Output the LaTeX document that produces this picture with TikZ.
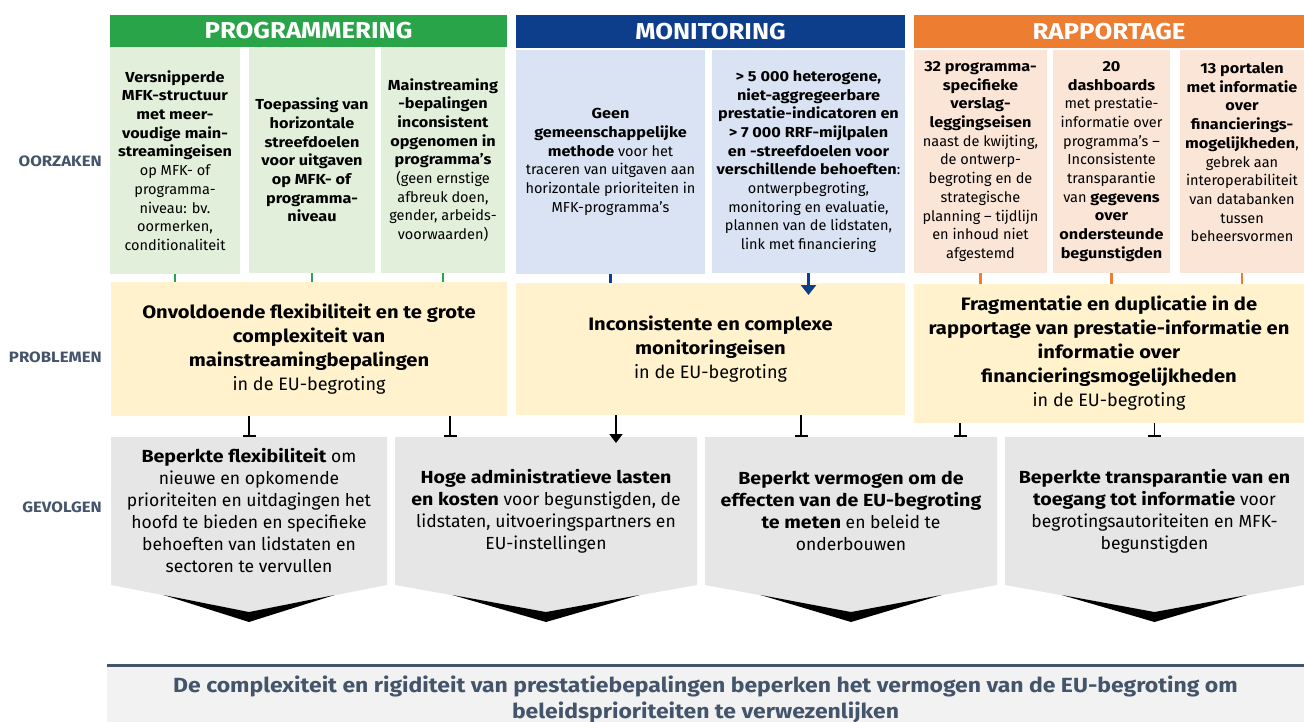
\documentclass[tikz,border=0pt]{standalone}
\usepackage{fontspec}
\setmainfont{Fira Sans}[BoldFeatures={FakeStretch=1.12}]
\usetikzlibrary{arrows.meta,calc}
\definecolor{gH}{RGB}{42,164,72}
\definecolor{gL}{RGB}{226,239,218}
\definecolor{bH}{RGB}{12,62,140}
\definecolor{bL}{RGB}{218,227,243}
\definecolor{oH}{RGB}{237,125,49}
\definecolor{oL}{RGB}{251,229,214}
\definecolor{pY}{RGB}{255,242,204}
\definecolor{cG}{RGB}{230,230,230}
\definecolor{lab}{RGB}{68,84,106}
\definecolor{botG}{RGB}{242,242,242}
\pgfdeclarelayer{bg}
\pgfsetlayers{bg,main}
\begin{document}
\begin{tikzpicture}[x=1pt,y=-1pt,
  box/.style={inner sep=0pt, outer sep=0pt, anchor=north west, align=center},
  hdr/.style={box, text=white, font=\fontsize{23}{28}\selectfont\bfseries},
  cause/.style={box, font=\fontsize{14.5}{18.7}\selectfont},
  prob/.style={box, fill=pY, font=\fontsize{18}{24}\selectfont},
  cons/.style={box, font=\fontsize{17.5}{22}\selectfont},
  lbl/.style={inner sep=0pt, anchor=east, text=lab, font=\fontsize{15}{18}\selectfont\bfseries},
  tick/.style={line width=2.5pt},
  tee/.style={line width=1.8pt, -{Bar[width=13pt,line width=2pt]}},
  chev/.style={fill=cG},
]
\useasboundingbox (0,0) rectangle (1304,722);

% headers
\node[hdr, fill=gH, minimum width=397pt, minimum height=32pt] (hp) at (110,15) {PROGRAMMERING};
\node[hdr, fill=bH, minimum width=389pt, minimum height=33pt] (hm) at (516,15) {MONITORING};
\node[hdr, fill=oH, minimum width=390pt, minimum height=33pt] (hr) at (914,15) {RAPPORTAGE};

% row labels
\node[lbl] (lo) at (102,161) {OORZAKEN};
\node[lbl] (lpr) at (102,357) {PROBLEMEN};
\node[lbl] (lg) at (102,507) {GEVOLGEN};

% causes
\node[cause, fill=gL, minimum width=130pt, minimum height=227pt] (g1) at (110,47)
 {\textbf{Versnipperde}\\\textbf{MFK-structuur}\\\textbf{met meer-}\\\textbf{voudige main-}\\\textbf{streamingeisen}\\op MFK- of\\programma-\\niveau: bv.\\oormerken,\\conditionaliteit};
\node[cause, fill=gL, minimum width=126pt, minimum height=226pt] (g2) at (249,47)
 {\textbf{Toepassing van}\\\textbf{horizontale}\\\textbf{streefdoelen}\\\textbf{voor uitgaven}\\\textbf{op MFK- of}\\\textbf{programma-}\\\textbf{niveau}};
\node[cause, fill=gL, minimum width=124pt, minimum height=226pt] (g3) at (381,47)
 {\textbf{Mainstreaming}\\\textbf{-bepalingen}\\\textbf{inconsistent}\\\textbf{opgenomen in}\\\textbf{programma’s}\\(geen ernstige\\afbreuk doen,\\gender, arbeids-\\voorwaarden)};
\node[cause, fill=bL, minimum width=189pt, minimum height=224pt] (b1) at (516,50)
 {\textbf{Geen}\\\textbf{gemeenschappelijke}\\\textbf{methode} voor het\\traceren van uitgaven aan\\horizontale prioriteiten in\\MFK-programma’s};
\node[cause, fill=bL, minimum width=193pt, minimum height=223pt] (b2) at (712,50)
 {\textbf{> 5~000 heterogene,}\\\textbf{niet-aggregeerbare}\\\textbf{prestatie-indicatoren en}\\\textbf{> 7~000 RRF-mijlpalen}\\\textbf{en -streefdoelen voor}\\\textbf{verschillende behoeften}:\\ontwerpbegroting,\\monitoring en evaluatie,\\plannen van de lidstaten,\\link met financiering};
\node[cause, fill=oL, minimum width=133pt, minimum height=223pt] (o1) at (914,50)
 {\textbf{32 programma-}\\\textbf{specifieke}\\\textbf{verslag-}\\\textbf{leggingseisen}\\naast de kwijting,\\de ontwerp-\\begroting en de\\strategische\\planning – tijdlijn\\en inhoud niet\\afgestemd};
\node[cause, fill=oL, minimum width=117pt, minimum height=223pt] (o2) at (1053,50)
 {\textbf{20}\\\textbf{dashboards}\\met prestatie-\\informatie over\\programma’s –\\Inconsistente\\transparantie\\van \textbf{gegevens}\\\textbf{over}\\\textbf{ondersteunde}\\\textbf{begunstigden}};
\node[cause, fill=oL, minimum width=124pt, minimum height=223pt] (o3) at (1180,50)
 {\textbf{13 portalen}\\\textbf{met informatie}\\\textbf{over}\\\textbf{financierings-}\\\textbf{mogelijkheden},\\gebrek aan\\interoperabiliteit\\van databanken\\tussen\\beheersvormen\\~};

% problems
\node[prob, minimum width=396pt, minimum height=134pt] (p1) at (111,282)
 {\textbf{Onvoldoende flexibiliteit en te grote}\\\textbf{complexiteit van}\\\textbf{mainstreamingbepalingen}\\in de EU-begroting};
\node[prob, minimum width=389pt, minimum height=132pt] (p2) at (516,283)
 {\textbf{Inconsistente en complexe}\\\textbf{monitoringeisen}\\in de EU-begroting};
\node[prob, minimum width=390pt, minimum height=139pt] (p3) at (914,284)
 {\textbf{Fragmentatie en duplicatie in de}\\\textbf{rapportage van prestatie-informatie en}\\\textbf{informatie over}\\\textbf{financieringsmogelijkheden}\\in de EU-begroting};

% consequences
\node[cons, minimum width=276pt, minimum height=148pt] (c1) at (111,437)
 {\textbf{Beperkte flexibiliteit} om\\nieuwe en opkomende\\prioriteiten en uitdagingen het\\hoofd te bieden en specifieke\\behoeften van lidstaten en\\sectoren te vervullen};
\node[cons, minimum width=302pt, minimum height=148pt] (c2) at (395,437)
 {\textbf{Hoge administratieve lasten}\\\textbf{en kosten} voor begunstigden, de\\lidstaten, uitvoeringspartners en\\EU-instellingen};
\node[cons, minimum width=292pt, minimum height=148pt] (c3) at (705,437)
 {\textbf{Beperkt vermogen om de}\\\textbf{effecten van de EU-begroting}\\\textbf{te meten} en beleid te\\onderbouwen};
\node[cons, minimum width=299pt, minimum height=148pt] (c4) at (1005,437)
 {\textbf{Beperkte transparantie van en}\\\textbf{toegang tot informatie} voor\\begrotingsautoriteiten en MFK-\\begunstigden};

\begin{pgfonlayer}{bg}
\foreach \c in {c1,c2,c3,c4}{
  \fill[chev] (\c.north west) -- (\c.north east) -- (\c.south east)
     -- ($(\c.south)+(0,27)$) -- (\c.south west) -- cycle;
  \fill[black] ($(\c.south west)!0.19!(\c.south east)+(0,10)$) -- ($(\c.south)+(0,27)$)
     -- ($(\c.south west)!0.81!(\c.south east)+(0,10)$) -- ($(\c.south)+(0,37)$) -- cycle;
}
\end{pgfonlayer}

% bottom conclusion
\node[box, fill=botG, minimum width=1197pt, minimum height=65pt, text=lab,
      font=\fontsize{20.5}{26}\selectfont\bfseries] (bot) at (107,667)
 {De complexiteit en rigiditeit van prestatiebepalingen beperken het vermogen van de EU-begroting om\\beleidsprioriteiten te verwezenlijken};
\draw[line width=3pt, lab] ([yshift=1.5pt]bot.north west) -- ([yshift=1.5pt]bot.north east);

% cause -> problem connectors
\foreach \s in {g1,g2,g3} \draw[tick, gH] (\s.south) -- (\s.south |- p1.north);
\draw[tick, bH] (b1.south) -- (b1.south |- p2.north);
\draw[tick, bH, -{Triangle[width=15pt,length=10pt]}] (b2.south) -- ([yshift=-12pt]b2.south |- p2.north);
\foreach \s in {o1,o2,o3} \draw[tick, oH] (\s.south) -- (\s.south |- p3.north);

% problem -> consequence connectors
\draw[tee] (c1.north |- p1.south) -- (c1.north);
\draw[tee] ([xshift=-96pt]c2.north |- p1.south) -- ([xshift=-96pt]c2.north);
\draw[line width=1.8pt, -{Triangle[width=13pt,length=9pt]}] ([xshift=70pt]c2.north |- p2.south) -- ([xshift=70pt,yshift=-6pt]c2.north);
\draw[tee] ([xshift=-50pt]c3.north |- p2.south) -- ([xshift=-50pt]c3.north);
\draw[tee] ([xshift=109pt]c3.north |- p3.south) -- ([xshift=109pt]c3.north);
\draw[tee] (c4.north |- p3.south) -- (c4.north);
\end{tikzpicture}
\end{document}
